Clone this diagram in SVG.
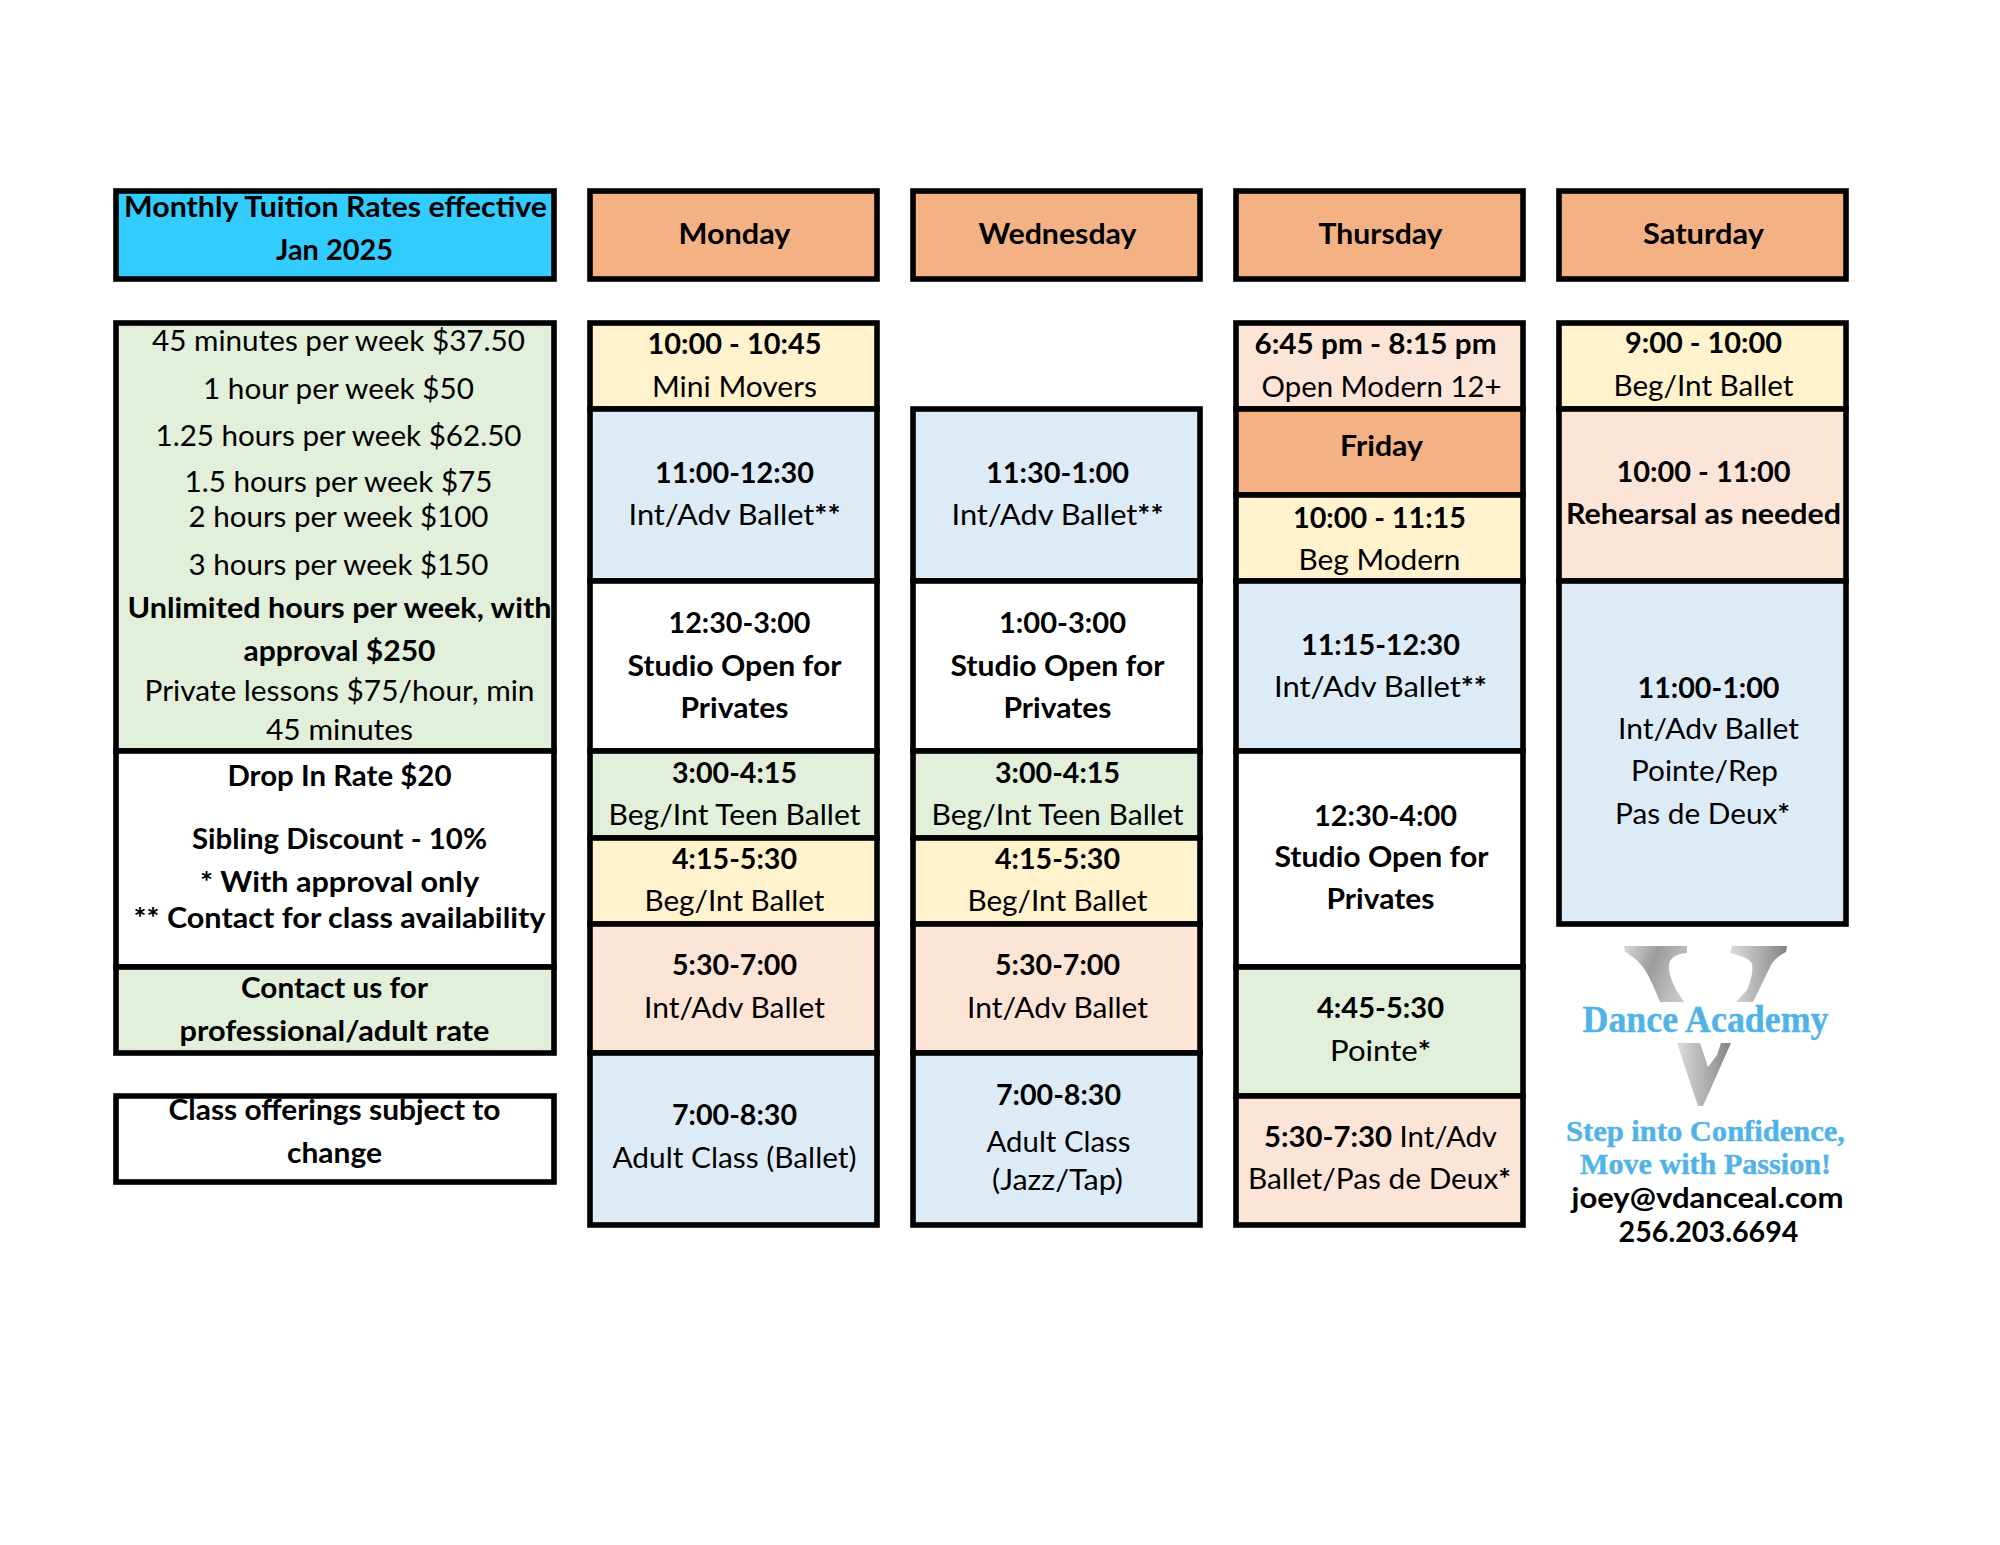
<svg xmlns="http://www.w3.org/2000/svg" width="2000" height="1545" viewBox="0 0 2000 1545">
<style>
rect{stroke:#000;stroke-width:5.6}
text{font-family:Lato,"Open Sans",sans-serif;font-size:28px;fill:#000;text-anchor:middle;transform:translate(-0.5px,1px)}
.b{font-weight:700}
.hd{fill:#F4B183}.cy{fill:#33CCFF}.gr{fill:#E2EFDA}.ye{fill:#FFF2CC}.pe{fill:#FCE4D6}.bl{fill:#DDEBF7}.wh{fill:#fff}
text.logo{font-family:"Liberation Serif",serif;font-weight:700;fill:#4FB3E8;stroke:#4FB3E8;stroke-width:.4}
</style>
<defs>
<linearGradient id="g1" x1="0" y1="0" x2="1" y2="0.35"><stop offset="0" stop-color="#d8d8d8"/><stop offset="0.5" stop-color="#9c9c9c"/><stop offset="1" stop-color="#c4c4c4"/></linearGradient>
<linearGradient id="g2" x1="0" y1="0" x2="1" y2="0"><stop offset="0" stop-color="#dcdcdc"/><stop offset="0.6" stop-color="#a8a8a8"/><stop offset="1" stop-color="#828282"/></linearGradient>
</defs>
<rect width="2000" height="1545" style="fill:#fff;stroke:none"/>

<g id="rates-title"><rect class="cy" x="116" y="191" width="438" height="88"/>
<text class="b" x="336" y="216" textLength="423" lengthAdjust="spacingAndGlyphs">Monthly Tuition Rates effective</text>
<text class="b" x="335" y="259" textLength="117" lengthAdjust="spacingAndGlyphs">Jan 2025</text></g>

<g id="rates"><rect class="gr" x="116" y="323" width="438" height="428"/>
<text x="339" y="350" textLength="373" lengthAdjust="spacingAndGlyphs">45 minutes per week $37.50</text>
<text x="339" y="398" textLength="271" lengthAdjust="spacingAndGlyphs">1 hour per week $50</text>
<text x="339" y="445" textLength="366" lengthAdjust="spacingAndGlyphs">1.25 hours per week $62.50</text>
<text x="339" y="491" textLength="308" lengthAdjust="spacingAndGlyphs">1.5 hours per week $75</text>
<text x="339" y="526" textLength="300" lengthAdjust="spacingAndGlyphs">2 hours per week $100</text>
<text x="339" y="574" textLength="300" lengthAdjust="spacingAndGlyphs">3 hours per week $150</text>
<text class="b" x="340" y="617" textLength="424" lengthAdjust="spacingAndGlyphs">Unlimited hours per week, with</text>
<text class="b" x="340" y="660" textLength="192" lengthAdjust="spacingAndGlyphs">approval $250</text>
<text x="340" y="700" textLength="390" lengthAdjust="spacingAndGlyphs">Private lessons $75/hour, min</text>
<text x="340" y="739" textLength="147" lengthAdjust="spacingAndGlyphs">45 minutes</text></g>

<g id="discounts"><rect class="wh" x="116" y="751" width="438" height="216"/>
<text class="b" x="340" y="785" textLength="224" lengthAdjust="spacingAndGlyphs">Drop In Rate $20</text>
<text class="b" x="340" y="848" textLength="295" lengthAdjust="spacingAndGlyphs">Sibling Discount - 10%</text>
<text class="b" x="340" y="891" textLength="279" lengthAdjust="spacingAndGlyphs">* With approval only</text>
<text class="b" x="340" y="927" textLength="412" lengthAdjust="spacingAndGlyphs">** Contact for class availability</text></g>

<g id="contact-rate"><rect class="gr" x="116" y="967" width="438" height="86"/>
<text class="b" x="335" y="997" textLength="187" lengthAdjust="spacingAndGlyphs">Contact us for</text>
<text class="b" x="335" y="1040" textLength="310" lengthAdjust="spacingAndGlyphs">professional/adult rate</text></g>

<g id="notice"><rect class="wh" x="116" y="1096" width="438" height="86"/>
<text class="b" x="335" y="1119" textLength="332" lengthAdjust="spacingAndGlyphs">Class offerings subject to</text>
<text class="b" x="335" y="1162" textLength="95" lengthAdjust="spacingAndGlyphs">change</text></g>

<g id="mon-head"><rect class="hd" x="590" y="191" width="287" height="88"/><text class="b" x="735" y="243" textLength="112" lengthAdjust="spacingAndGlyphs">Monday</text></g>
<g id="mon-1"><rect class="ye" x="590" y="323" width="287" height="86"/>
<text class="b" x="735" y="353" textLength="174" lengthAdjust="spacingAndGlyphs">10:00 - 10:45</text>
<text x="735" y="396" textLength="165" lengthAdjust="spacingAndGlyphs">Mini Movers</text></g>
<g id="mon-2"><rect class="bl" x="590" y="409" width="287" height="172"/>
<text class="b" x="735" y="482" textLength="159" lengthAdjust="spacingAndGlyphs">11:00-12:30</text>
<text x="735" y="524" textLength="212" lengthAdjust="spacingAndGlyphs">Int/Adv Ballet<tspan class="b">**</tspan></text></g>
<g id="mon-3"><rect class="wh" x="590" y="581" width="287" height="170"/>
<text class="b" x="740" y="632" textLength="142" lengthAdjust="spacingAndGlyphs">12:30-3:00</text>
<text class="b" x="735" y="675" textLength="214" lengthAdjust="spacingAndGlyphs">Studio Open for</text>
<text class="b" x="735" y="717" textLength="108" lengthAdjust="spacingAndGlyphs">Privates</text></g>
<g id="mon-4"><rect class="gr" x="590" y="751" width="287" height="87"/>
<text class="b" x="735" y="782" textLength="125" lengthAdjust="spacingAndGlyphs">3:00-4:15</text>
<text x="735" y="824" textLength="252" lengthAdjust="spacingAndGlyphs">Beg/Int Teen Ballet</text></g>
<g id="mon-5"><rect class="ye" x="590" y="838" width="287" height="86"/>
<text class="b" x="735" y="868" textLength="125" lengthAdjust="spacingAndGlyphs">4:15-5:30</text>
<text x="735" y="910" textLength="180" lengthAdjust="spacingAndGlyphs">Beg/Int Ballet</text></g>
<g id="mon-6"><rect class="pe" x="590" y="924" width="287" height="129"/>
<text class="b" x="735" y="974" textLength="125" lengthAdjust="spacingAndGlyphs">5:30-7:00</text>
<text x="735" y="1017" textLength="181" lengthAdjust="spacingAndGlyphs">Int/Adv Ballet</text></g>
<g id="mon-7"><rect class="bl" x="590" y="1053" width="287" height="172"/>
<text class="b" x="735" y="1124" textLength="125" lengthAdjust="spacingAndGlyphs">7:00-8:30</text>
<text x="735" y="1167" textLength="244" lengthAdjust="spacingAndGlyphs">Adult Class (Ballet)</text></g>

<g id="wed-head"><rect class="hd" x="913" y="191" width="287" height="88"/><text class="b" x="1058" y="243" textLength="158" lengthAdjust="spacingAndGlyphs">Wednesday</text></g>
<g id="wed-1"><rect class="bl" x="913" y="409" width="287" height="172"/>
<text class="b" x="1058" y="482" textLength="143" lengthAdjust="spacingAndGlyphs">11:30-1:00</text>
<text x="1058" y="524" textLength="212" lengthAdjust="spacingAndGlyphs">Int/Adv Ballet<tspan class="b">**</tspan></text></g>
<g id="wed-2"><rect class="wh" x="913" y="581" width="287" height="170"/>
<text class="b" x="1063" y="632" textLength="127" lengthAdjust="spacingAndGlyphs">1:00-3:00</text>
<text class="b" x="1058" y="675" textLength="214" lengthAdjust="spacingAndGlyphs">Studio Open for</text>
<text class="b" x="1058" y="717" textLength="108" lengthAdjust="spacingAndGlyphs">Privates</text></g>
<g id="wed-3"><rect class="gr" x="913" y="751" width="287" height="87"/>
<text class="b" x="1058" y="782" textLength="125" lengthAdjust="spacingAndGlyphs">3:00-4:15</text>
<text x="1058" y="824" textLength="252" lengthAdjust="spacingAndGlyphs">Beg/Int Teen Ballet</text></g>
<g id="wed-4"><rect class="ye" x="913" y="838" width="287" height="86"/>
<text class="b" x="1058" y="868" textLength="125" lengthAdjust="spacingAndGlyphs">4:15-5:30</text>
<text x="1058" y="910" textLength="180" lengthAdjust="spacingAndGlyphs">Beg/Int Ballet</text></g>
<g id="wed-5"><rect class="pe" x="913" y="924" width="287" height="129"/>
<text class="b" x="1058" y="974" textLength="125" lengthAdjust="spacingAndGlyphs">5:30-7:00</text>
<text x="1058" y="1017" textLength="181" lengthAdjust="spacingAndGlyphs">Int/Adv Ballet</text></g>
<g id="wed-6"><rect class="bl" x="913" y="1053" width="287" height="172"/>
<text class="b" x="1059" y="1104" textLength="125" lengthAdjust="spacingAndGlyphs">7:00-8:30</text>
<text x="1059" y="1151" textLength="144" lengthAdjust="spacingAndGlyphs">Adult Class</text>
<text x="1058" y="1189" textLength="131" lengthAdjust="spacingAndGlyphs">(Jazz/Tap)</text></g>

<g id="thu-head"><rect class="hd" x="1236" y="191" width="287" height="88"/><text class="b" x="1381" y="243" textLength="124" lengthAdjust="spacingAndGlyphs">Thursday</text></g>
<g id="thu-1"><rect class="pe" x="1236" y="323" width="287" height="86"/>
<text class="b" x="1376" y="353" textLength="242" lengthAdjust="spacingAndGlyphs">6:45 pm - 8:15 pm</text>
<text x="1382" y="396" textLength="240" lengthAdjust="spacingAndGlyphs">Open Modern 12+</text></g>
<g id="fri-head"><rect class="hd" x="1236" y="409" width="287" height="86"/><text class="b" x="1382" y="455" textLength="83" lengthAdjust="spacingAndGlyphs">Friday</text></g>
<g id="fri-1"><rect class="ye" x="1236" y="495" width="287" height="86"/>
<text class="b" x="1380" y="527" textLength="173" lengthAdjust="spacingAndGlyphs">10:00 - 11:15</text>
<text x="1380" y="569" textLength="162" lengthAdjust="spacingAndGlyphs">Beg Modern</text></g>
<g id="fri-2"><rect class="bl" x="1236" y="581" width="287" height="170"/>
<text class="b" x="1381" y="654" textLength="159" lengthAdjust="spacingAndGlyphs">11:15-12:30</text>
<text x="1381" y="696" textLength="213" lengthAdjust="spacingAndGlyphs">Int/Adv Ballet<tspan class="b">**</tspan></text></g>
<g id="fri-3"><rect class="wh" x="1236" y="751" width="287" height="216"/>
<text class="b" x="1386" y="825" textLength="143" lengthAdjust="spacingAndGlyphs">12:30-4:00</text>
<text class="b" x="1382" y="866" textLength="214" lengthAdjust="spacingAndGlyphs">Studio Open for</text>
<text class="b" x="1381" y="908" textLength="108" lengthAdjust="spacingAndGlyphs">Privates</text></g>
<g id="fri-4"><rect class="gr" x="1236" y="967" width="287" height="129"/>
<text class="b" x="1381" y="1017" textLength="127" lengthAdjust="spacingAndGlyphs">4:45-5:30</text>
<text x="1381" y="1060" textLength="101" lengthAdjust="spacingAndGlyphs">Pointe<tspan class="b">*</tspan></text></g>
<g id="fri-5"><rect class="pe" x="1236" y="1096" width="287" height="129"/>
<text x="1381" y="1146" textLength="233" lengthAdjust="spacingAndGlyphs"><tspan class="b">5:30-7:30</tspan> Int/Adv</text>
<text x="1380" y="1188" textLength="263" lengthAdjust="spacingAndGlyphs">Ballet/Pas de Deux<tspan class="b">*</tspan></text></g>

<g id="sat-head"><rect class="hd" x="1559" y="191" width="287" height="88"/><text class="b" x="1704" y="243" textLength="121" lengthAdjust="spacingAndGlyphs">Saturday</text></g>
<g id="sat-1"><rect class="ye" x="1559" y="323" width="287" height="86"/>
<text class="b" x="1704" y="352" textLength="157" lengthAdjust="spacingAndGlyphs">9:00 - 10:00</text>
<text x="1704" y="395" textLength="180" lengthAdjust="spacingAndGlyphs">Beg/Int Ballet</text></g>
<g id="sat-2"><rect class="pe" x="1559" y="409" width="287" height="172"/>
<text class="b" x="1704" y="481" textLength="174" lengthAdjust="spacingAndGlyphs">10:00 - 11:00</text>
<text class="b" x="1704" y="523" textLength="275" lengthAdjust="spacingAndGlyphs">Rehearsal as needed</text></g>
<g id="sat-3"><rect class="bl" x="1559" y="581" width="287" height="343"/>
<text class="b" x="1709" y="697" textLength="142" lengthAdjust="spacingAndGlyphs">11:00-1:00</text>
<text x="1709" y="738" textLength="181" lengthAdjust="spacingAndGlyphs">Int/Adv Ballet</text>
<text x="1705" y="780" textLength="147" lengthAdjust="spacingAndGlyphs">Pointe/Rep</text>
<text x="1703" y="823" textLength="175" lengthAdjust="spacingAndGlyphs">Pas de Deux<tspan class="b">*</tspan></text></g>

<g id="logo">
<path fill="url(#g1)" d="M1624 946H1687V953C1675 954 1670 958 1669 965C1668 972 1672 985 1684 1002H1660C1655 990 1650 978 1645 970C1640 962 1632 956 1625 952Z"/>
<path fill="url(#g2)" d="M1732 946H1787L1786 952C1778 956 1774 960 1771 965L1753 1002H1736L1747 990C1752 978 1754 967 1751 962C1747 957 1738 955 1730 953Z"/>
<path fill="url(#g2)" d="M1677 1043H1700L1708 1067L1717 1055L1721 1043H1731L1703 1106H1698Z"/>
<text class="logo" x="1706" y="1031" style="font-size:38px" textLength="246" lengthAdjust="spacingAndGlyphs">Dance Academy</text>
<text class="logo" x="1706" y="1140" style="font-size:29px" textLength="279" lengthAdjust="spacingAndGlyphs">Step into Confidence,</text>
<text class="logo" x="1706" y="1173" style="font-size:29px" textLength="251" lengthAdjust="spacingAndGlyphs">Move with Passion!</text>
<text class="b" x="1708" y="1207" style="font-size:29px" textLength="272" lengthAdjust="spacingAndGlyphs">joey@vdanceal.com</text>
<text class="b" x="1709" y="1241" style="font-size:29px" textLength="180" lengthAdjust="spacingAndGlyphs">256.203.6694</text>
</g>
</svg>
